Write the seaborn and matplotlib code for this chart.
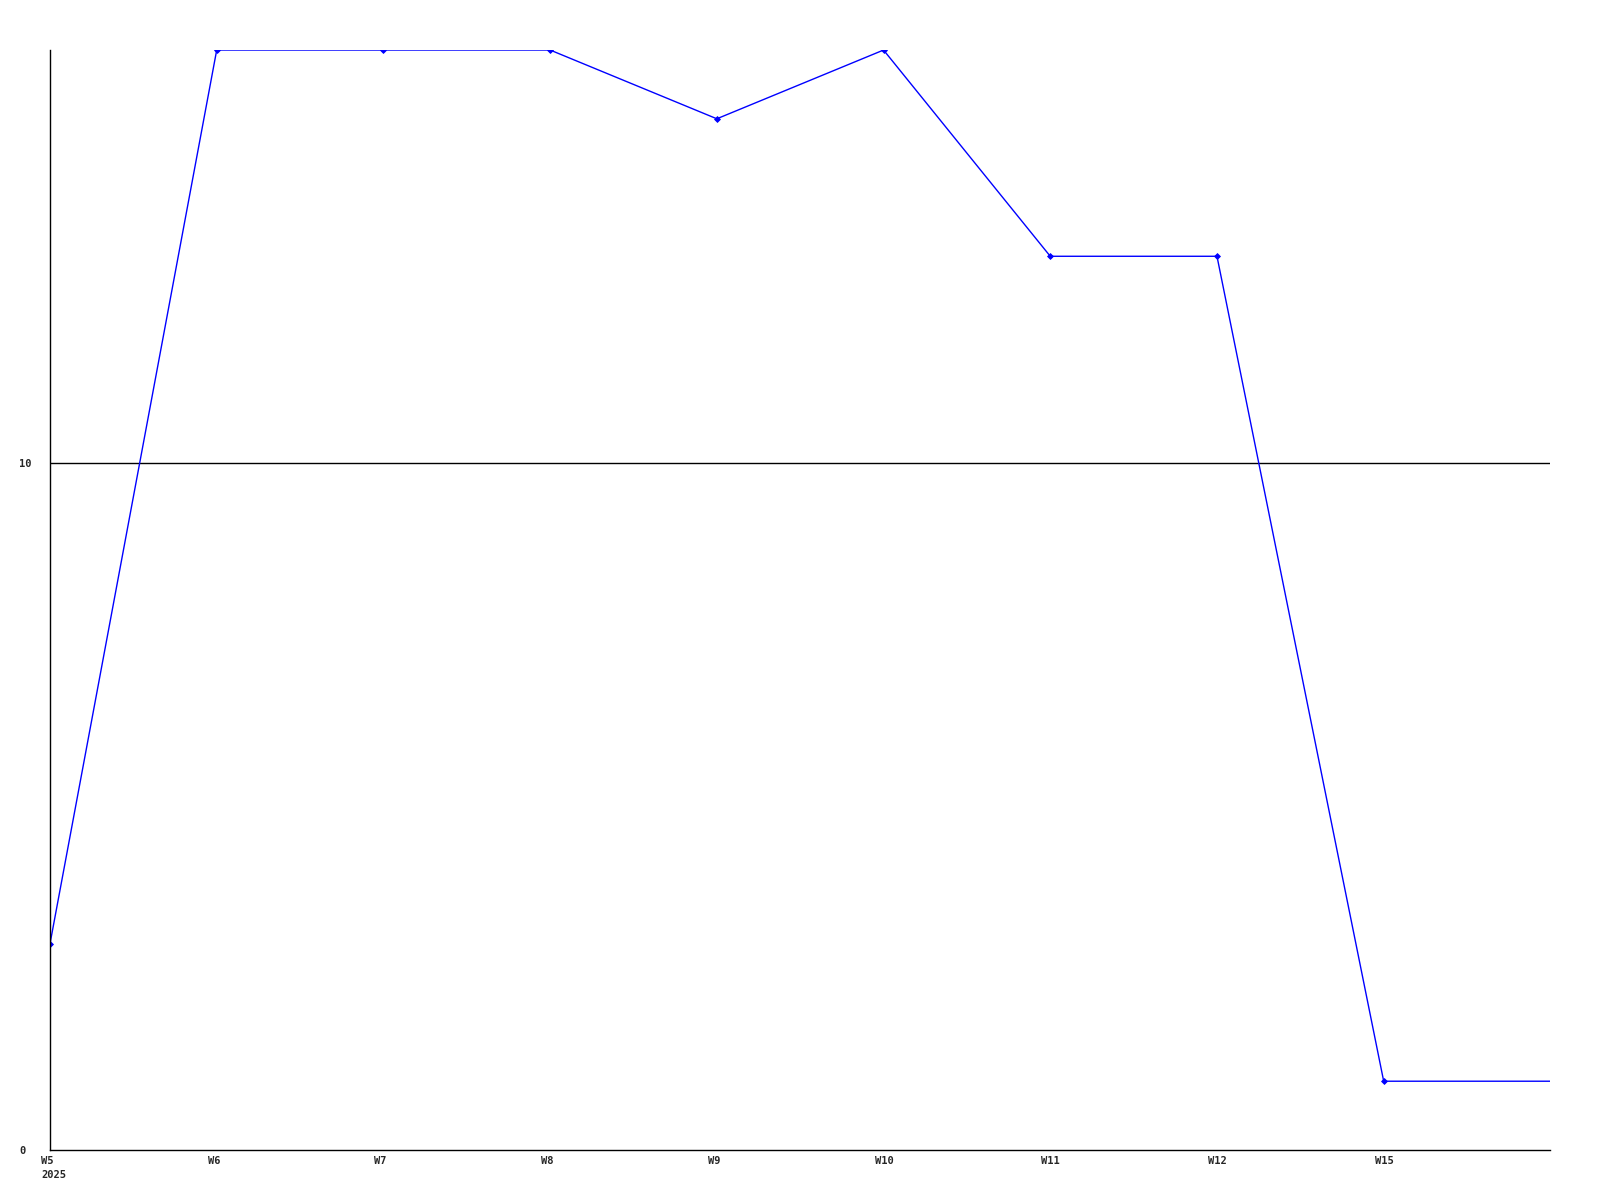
import matplotlib.pyplot as plt
import matplotlib.transforms as mtransforms
import seaborn as sns
import pandas as pd

weeks = ["W5", "W6", "W7", "W8", "W9", "W10", "W11", "W12", "W15"]
tick_labels = ["W5\n2025", "W6", "W7", "W8", "W9", "W10", "W11", "W12", "W15"]
values = [3, 16, 16, 16, 15, 16, 13, 13, 1]
# last value is held flat to the right edge of the chart
tail_value = 1

sns.set_style("white")
plt.rcParams['font.family'] = ['DejaVu Sans Mono']

fig = plt.figure(figsize=(16, 12), dpi=100)
ax = fig.add_axes([0.03125, 0.0417, 0.969 - 0.03125, 0.9583 - 0.0417])

df = pd.DataFrame({
    'pos': list(range(len(weeks) + 1)),
    'value': values + [tail_value],
})
sns.lineplot(data=df, x='pos', y='value', ax=ax, color='#0000ff', linewidth=1,
             marker='D', markersize=3, markeredgewidth=0.6, markeredgecolor='#0000ff',
             markevery=list(range(len(weeks))), sort=False)

ax.axhline(10, color='black', linewidth=1, zorder=0)

ax.set_xlim(0, len(weeks))
ax.set_ylim(0, 16)
ax.set_xticks(range(len(weeks)))
ax.set_xticklabels(tick_labels, fontsize=7.5, fontweight='bold', ha='left', ma='left',
                   linespacing=1.6)
ax.set_yticks([0, 10])
ax.set_yticklabels(['0', '10'], fontsize=7.5, fontweight='bold', ha='left')
ax.tick_params(axis='x', length=0, pad=4)
ax.tick_params(axis='y', length=0, pad=22)

# shift x labels a bit left of the tick, as in the original
offset = mtransforms.ScaledTranslation(-9 / 100, 0, fig.dpi_scale_trans)
for lab in ax.get_xticklabels():
    lab.set_transform(lab.get_transform() + offset)

ax.set_xlabel('')
ax.set_ylabel('')
for side in ['top', 'right']:
    ax.spines[side].set_visible(False)
for side in ['left', 'bottom']:
    ax.spines[side].set_color('black')
    ax.spines[side].set_linewidth(1)

fig.savefig('out.png', dpi=100, facecolor='white')
